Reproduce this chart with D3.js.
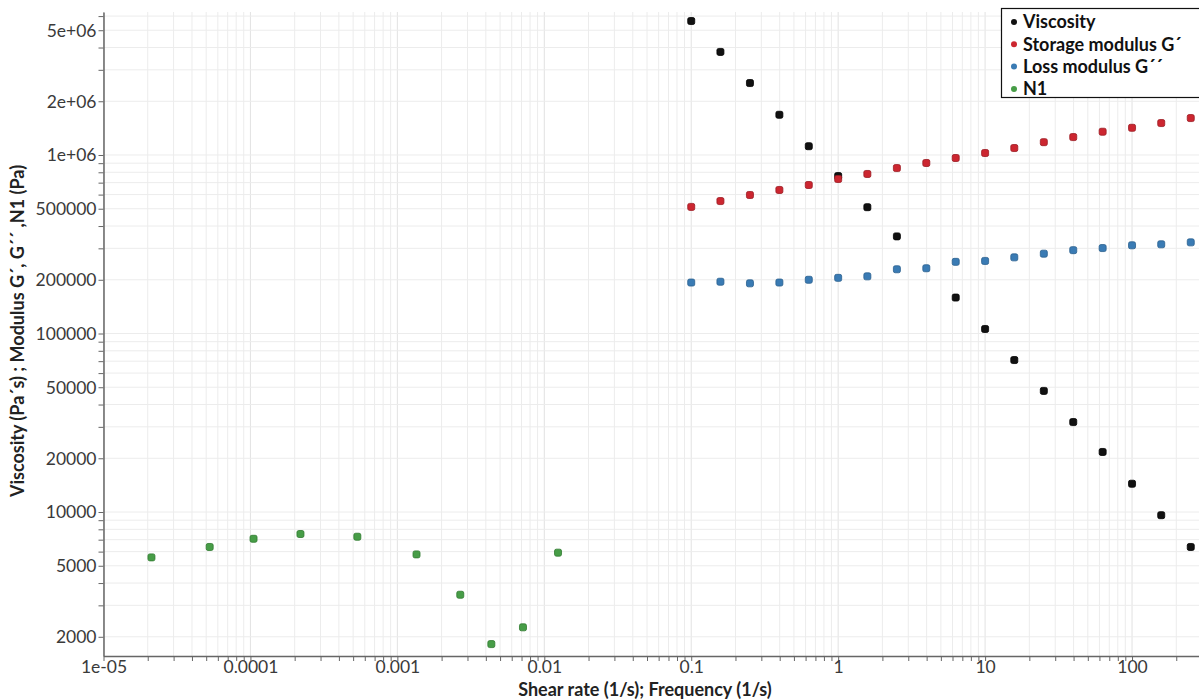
<!DOCTYPE html>
<html>
<head>
<meta charset="utf-8">
<script src="https://cdn.jsdelivr.net/npm/d3@7"></script>
<style>
  html, body { margin: 0; padding: 0; background: #fff; }
  svg { display: block; }
  .tick text { font-family: Lato, "Open Sans", sans-serif; font-size: 17.5px; fill: #3a3a3a; }
</style>
</head>
<body>
<svg id="chart" width="1199" height="699"></svg>
<script>
// ---------------- data ----------------
const freq = [0.1, 0.158, 0.251, 0.398, 0.631, 1, 1.58, 2.51, 3.98, 6.31, 10, 15.8, 25.1, 39.8, 63.1, 100, 158, 251];
const viscShear = [0.1, 0.158, 0.251, 0.398, 0.631, 1, 1.58, 2.51, 6.31, 10, 15.8, 25.1, 39.8, 63.1, 100, 158, 251];
const viscosity = [5.63e6, 3.78e6, 2.53e6, 1.68e6, 1.12e6, 7.62e5, 5.1e5, 3.5e5, 1.59e5, 1.06e5, 7.1e4, 4.77e4, 3.19e4, 2.17e4, 1.44e4, 9.6e3, 6.37e3];
const storageModulus = [5.12e5, 5.52e5, 5.97e5, 6.37e5, 6.79e5, 7.34e5, 7.83e5, 8.45e5, 9.02e5, 9.62e5, 1.026e6, 1.094e6, 1.18e6, 1.26e6, 1.35e6, 1.42e6, 1.51e6, 1.61e6];
const lossModulus = [1.93e5, 1.95e5, 1.91e5, 1.93e5, 2.0e5, 2.05e5, 2.09e5, 2.29e5, 2.32e5, 2.52e5, 2.55e5, 2.67e5, 2.80e5, 2.93e5, 3.01e5, 3.12e5, 3.16e5, 3.24e5];
const n1Shear = [2.12e-5, 5.28e-5, 1.05e-4, 2.19e-4, 5.34e-4, 1.35e-3, 2.68e-3, 4.36e-3, 7.16e-3, 1.24e-2];
const n1 = [5570, 6370, 7080, 7530, 7270, 5790, 3440, 1820, 2260, 5920];

const seriesNames = ["Viscosity", "Storage modulus G\u00B4", "Loss modulus G\u00B4\u00B4", "N1"];
const seriesColors = ["#111111", "#cc2630", "#3a7bb4", "#479d47"];
const seriesStroke = ["#000000", "#9a1a22", "#2a5f8e", "#2f7a2f"];

const xTickValues = [1e-5, 1e-4, 1e-3, 1e-2, 1e-1, 1, 10, 100];
const xTickLabels = ["1e-05", "0.0001", "0.001", "0.01", "0.1", "1", "10", "100"];
const yTickValues = [2000, 5000, 10000, 20000, 50000, 100000, 200000, 500000, 1e6, 2e6, 5e6];
const yTickLabels = ["2000", "5000", "10000", "20000", "50000", "100000", "200000", "500000", "1e+06", "2e+06", "5e+06"];

const xTitle = "Shear rate (1/s); Frequency (1/s)";
const yTitle = "Viscosity (Pa\u00B4s) ; Modulus G\u00B4, G\u00B4\u00B4 ,N1 (Pa)";

// ---------------- layout ----------------
const svg = d3.select("#chart");
const plot = { left: 103.5, right: 1199, top: 12, bottom: 656 };

const x = d3.scaleLog().domain([1e-5, 285.6]).range([plot.left, plot.right]);
const y = d3.scaleLog().domain([1561, 6.325e6]).range([plot.bottom, plot.top]);

function minorValues(lo, hi) {
  const out = [];
  for (let e = Math.floor(Math.log10(lo)); e <= Math.ceil(Math.log10(hi)); e++) {
    for (let m = 1; m <= 9; m++) {
      const v = m * Math.pow(10, e);
      if (v >= lo * 0.9999 && v <= hi * 1.0001) out.push(v);
    }
  }
  return out;
}
const xAll = minorValues(...x.domain());
const yAll = minorValues(...y.domain());

// grid
const grid = svg.append("g");
grid.selectAll("line.vx").data(xAll).join("line")
  .attr("x1", d => x(d)).attr("x2", d => x(d))
  .attr("y1", plot.top).attr("y2", plot.bottom)
  .attr("stroke", d => xTickValues.some(t => Math.abs(t - d) / t < 1e-6) ? "#e2e2e2" : "#ececec")
  .attr("stroke-width", 1);
grid.selectAll("line.hy").data(yAll).join("line")
  .attr("y1", d => y(d)).attr("y2", d => y(d))
  .attr("x1", plot.left).attr("x2", plot.right)
  .attr("stroke", "#ececec")
  .attr("stroke-width", 1);

function labelFor(vals, labels) {
  return d => {
    const i = vals.findIndex(t => Math.abs(t - d) / t < 1e-6);
    return i >= 0 ? labels[i] : "";
  };
}

// axes
const xAxis = svg.append("g")
  .attr("transform", `translate(0,${plot.bottom})`)
  .call(d3.axisBottom(x).tickValues(xAll).tickFormat(labelFor(xTickValues, xTickLabels)).tickSize(5).tickSizeOuter(0));
const yAxis = svg.append("g")
  .attr("transform", `translate(${plot.left},0)`)
  .call(d3.axisLeft(y).tickValues(yAll).tickFormat(labelFor(yTickValues, yTickLabels)).tickSize(5).tickSizeOuter(0));

[xAxis, yAxis].forEach(a => {
  a.select(".domain").attr("stroke", "#666").attr("stroke-width", 1.5);
  a.selectAll(".tick line").attr("stroke", "#666");
});
xAxis.selectAll(".tick text").attr("dy", "0.75em").attr("y", 4);
yAxis.selectAll(".tick text").attr("x", -7).attr("dy", "0.34em");

// axis titles
svg.append("text")
  .attr("x", 645).attr("y", 696)
  .attr("text-anchor", "middle")
  .attr("font-family", "Lato, 'Open Sans', sans-serif")
  .attr("font-weight", "bold").attr("font-size", 18).attr("fill", "#222")
  .text(xTitle);
svg.append("text")
  .attr("transform", "translate(24,331) rotate(-90)")
  .attr("text-anchor", "middle")
  .attr("font-family", "Lato, 'Open Sans', sans-serif")
  .attr("font-weight", "bold").attr("font-size", 18).attr("fill", "#222")
  .text(yTitle);

// markers
const series = [
  { xs: viscShear, ys: viscosity },
  { xs: freq, ys: storageModulus },
  { xs: freq, ys: lossModulus },
  { xs: n1Shear, ys: n1 }
];
const ms = 7;
series.forEach((s, i) => {
  const pts = s.xs.map((xv, j) => [xv, s.ys[j]]);
  svg.append("g").selectAll("rect").data(pts).join("rect")
    .attr("x", d => x(d[0]) - ms / 2)
    .attr("y", d => y(d[1]) - ms / 2)
    .attr("width", ms).attr("height", ms)
    .attr("rx", 1.8)
    .attr("fill", seriesColors[i])
    .attr("stroke", seriesStroke[i])
    .attr("stroke-width", 0.8);
});

// legend
const legend = svg.append("g").attr("transform", "translate(1001,8)");
legend.append("rect")
  .attr("x", 0.5).attr("y", 0.5).attr("width", 220).attr("height", 89)
  .attr("fill", "#fff").attr("stroke", "#111").attr("stroke-width", 1.2);
const rows = legend.selectAll("g.row").data(seriesNames).join("g")
  .attr("transform", (d, i) => `translate(0,${14 + i * 22.3})`);
rows.append("circle").attr("cx", 13).attr("cy", 0).attr("r", 3)
  .attr("fill", (d, i) => seriesColors[i]);
rows.append("text").attr("x", 22).attr("y", 0).attr("dy", "0.35em")
  .attr("font-family", "Lato, 'Open Sans', sans-serif")
  .attr("font-weight", "bold").attr("font-size", 18).attr("fill", "#111")
  .text(d => d);
</script>
</body>
</html>
